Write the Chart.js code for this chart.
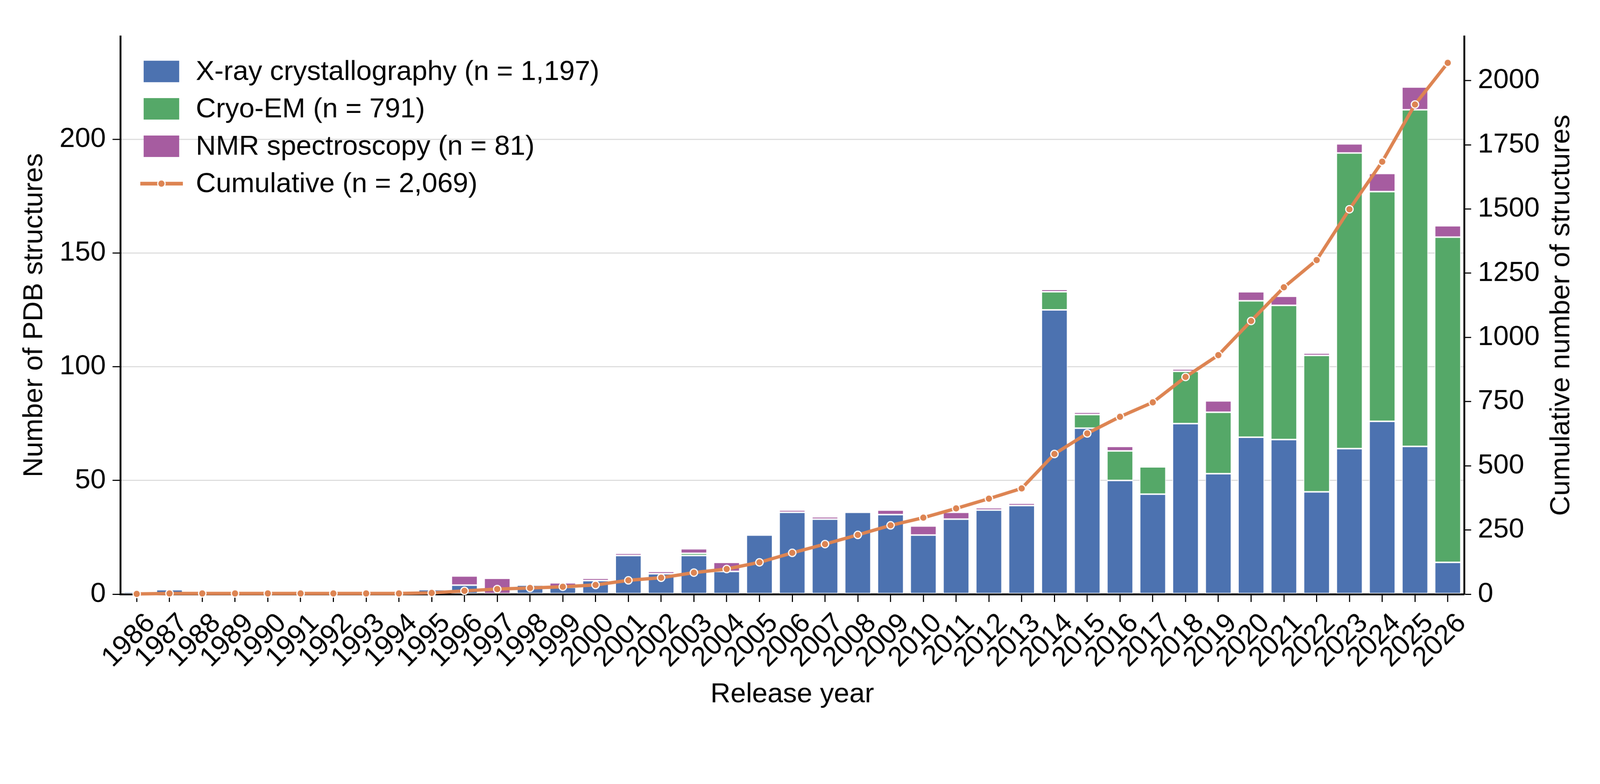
<!DOCTYPE html>
<html>
<head>
<meta charset="utf-8">
<script src="https://cdn.jsdelivr.net/npm/chart.js@4.4.1/dist/chart.umd.min.js"></script>
<style>
  html, body { margin: 0; padding: 0; background: #fff; overflow: hidden; }
  canvas { display: block; transform-origin: 0 0; }
</style>
</head>
<body>
<canvas id="chart" width="4322" height="2007" style="width:4322px;height:2007px"></canvas>
<script>
// release years
const years = [];
for (let y = 1986; y <= 2026; y++) years.push(String(y));

// structures per year by method
const xray = [1, 2, 0, 0, 0, 0, 0, 0, 0, 2, 4, 0, 4, 3, 6, 17, 9, 17, 10, 26, 36,
  33, 36, 35, 26, 33, 37, 39, 125, 73, 50, 44, 75, 53, 69, 68, 45, 64, 76, 65, 14];
const cryoEM = [0, 0, 0, 0, 0, 0, 0, 0, 0, 0, 0, 0, 0, 0, 0, 0, 0, 1, 0, 0, 0,
  0, 0, 0, 0, 0, 0, 0, 8, 6, 13, 12, 23, 27, 60, 59, 60, 130, 101, 148, 143];
const nmr = [0, 0, 0, 0, 0, 0, 0, 0, 0, 0, 4, 7, 0, 2, 1, 1, 1, 2, 4, 0, 1,
  1, 0, 2, 4, 3, 1, 1, 1, 1, 2, 0, 1, 5, 4, 4, 1, 4, 8, 10, 5];
const cumulative = [1, 3, 3, 3, 3, 3, 3, 3, 3, 5, 13, 20, 24, 29, 36, 54, 64, 84, 98, 124, 161,
  195, 231, 268, 298, 334, 372, 412, 546, 626, 691, 747, 846, 931, 1064, 1195, 1301, 1499, 1684, 1907, 2069];

const leftTicks = [0, 50, 100, 150, 200];
const rightTicks = [0, 250, 500, 750, 1000, 1250, 1500, 1750, 2000];
const leftMax = 245.3;
const rightMax = 2172.45;

const FONT = "'Liberation Sans', Arial, Helvetica, sans-serif";
const BLUE = '#4C72B0', GREEN = '#55A868', PURPLE = '#A65CA0', ORANGE = '#DD8452';

// the page is photographed at 4322 device pixels; map the canvas 1:1 onto them
const canvas = document.getElementById('chart');
const fit = window.innerWidth / 4322;
canvas.style.transform = 'scale(' + fit + ')';

const nz = arr => arr.map(v => v === 0 ? null : v);

// legend drawn inside the plot, top-left, one entry per row
const innerLegend = {
  id: 'innerLegend',
  afterDatasetsDraw(chart) {
    const ctx = chart.ctx;
    const items = [
      { label: 'X-ray crystallography (n = 1,197)', color: BLUE, type: 'box' },
      { label: 'Cryo-EM (n = 791)', color: GREEN, type: 'box' },
      { label: 'NMR spectroscopy (n = 81)', color: PURPLE, type: 'box' },
      { label: 'Cumulative (n = 2,069)', color: ORANGE, type: 'line' }
    ];
    ctx.save();
    ctx.font = '75px ' + FONT;
    ctx.textBaseline = 'middle';
    items.forEach((it, i) => {
      const cy = 193 + 101 * i;
      if (it.type === 'box') {
        ctx.fillStyle = it.color;
        ctx.fillRect(388, cy - 29, 96, 58);
      } else {
        ctx.strokeStyle = it.color;
        ctx.lineWidth = 10;
        ctx.beginPath();
        ctx.moveTo(379, cy);
        ctx.lineTo(494, cy);
        ctx.stroke();
        ctx.beginPath();
        ctx.arc(436, cy, 10, 0, Math.PI * 2);
        ctx.fillStyle = it.color;
        ctx.fill();
        ctx.lineWidth = 3;
        ctx.strokeStyle = '#fff';
        ctx.stroke();
      }
      ctx.fillStyle = '#000';
      ctx.fillText(it.label, 529, cy + 2);
    });

    // right axis title reads bottom-to-top, like the left one
    const area = chart.chartArea;
    ctx.translate(4218, (area.top + area.bottom) / 2);
    ctx.rotate(-Math.PI / 2);
    ctx.textAlign = 'center';
    ctx.fillText('Cumulative number of structures', 0, 0);
    ctx.restore();
  }
};

const barStyle = { borderColor: '#fff', borderWidth: 2, borderSkipped: false,
  categoryPercentage: 1.0, barPercentage: 0.8, yAxisID: 'y', order: 2 };

new Chart(canvas, {
  data: {
    labels: years,
    datasets: [
      Object.assign({ type: 'bar', label: 'X-ray crystallography', data: nz(xray), backgroundColor: BLUE, stack: 's' }, barStyle),
      Object.assign({ type: 'bar', label: 'Cryo-EM', data: nz(cryoEM), backgroundColor: GREEN, stack: 's' }, barStyle),
      Object.assign({ type: 'bar', label: 'NMR spectroscopy', data: nz(nmr), backgroundColor: PURPLE, stack: 's' }, barStyle),
      {
        type: 'line', label: 'Cumulative', data: cumulative, yAxisID: 'y1', order: 0,
        borderColor: ORANGE, borderWidth: 9, backgroundColor: ORANGE,
        pointRadius: 10, pointBackgroundColor: ORANGE, pointBorderColor: '#fff', pointBorderWidth: 3,
        tension: 0, fill: false, clip: false
      }
    ]
  },
  options: {
    responsive: false,
    devicePixelRatio: 1,
    animation: false,
    layout: { padding: { top: 98, left: 0, right: 0, bottom: 0 } },
    plugins: { legend: { display: false }, tooltip: { enabled: false } },
    scales: {
      x: {
        stacked: true,
        offset: true,
        grid: { display: true, drawOnChartArea: false, drawTicks: true, offset: false,
          tickLength: 21, tickWidth: 3, tickColor: '#000' },
        border: { display: true, color: '#000', width: 5 },
        ticks: { color: '#000', font: { family: FONT, size: 75 }, minRotation: 45, maxRotation: 45,
          autoSkip: false, padding: 14, labelOffset: 38 },
        title: { display: true, text: 'Release year', color: '#000', font: { family: FONT, size: 75 },
          padding: { top: 0, bottom: 86 } },
        afterFit: s => { s.height = 402; }
      },
      y: {
        position: 'left',
        stacked: true,
        min: 0, max: leftMax,
        afterBuildTicks: s => { s.ticks = leftTicks.map(v => ({ value: v })); },
        grid: { color: '#dcdcdc', lineWidth: 3, drawTicks: true, tickLength: 21, tickWidth: 3, tickColor: '#000' },
        border: { display: true, color: '#000', width: 5 },
        ticks: { color: '#000', font: { family: FONT, size: 75 }, padding: 18 },
        title: { display: true, text: 'Number of PDB structures', color: '#000', font: { family: FONT, size: 75 },
          padding: { top: 48, bottom: 0 } },
        afterFit: s => { s.width = 325; }
      },
      y1: {
        position: 'right',
        stacked: false,
        min: 0, max: rightMax,
        afterBuildTicks: s => { s.ticks = rightTicks.map(v => ({ value: v })); },
        grid: { drawOnChartArea: false, drawTicks: true, tickLength: 19, tickWidth: 3, tickColor: '#000' },
        border: { display: true, color: '#000', width: 5 },
        ticks: { color: '#000', font: { family: FONT, size: 75 }, padding: 18, callback: v => String(v) },
        title: { display: false },
        afterFit: s => { s.width = 367; }
      }
    }
  },
  plugins: [innerLegend]
});
</script>
</body>
</html>
